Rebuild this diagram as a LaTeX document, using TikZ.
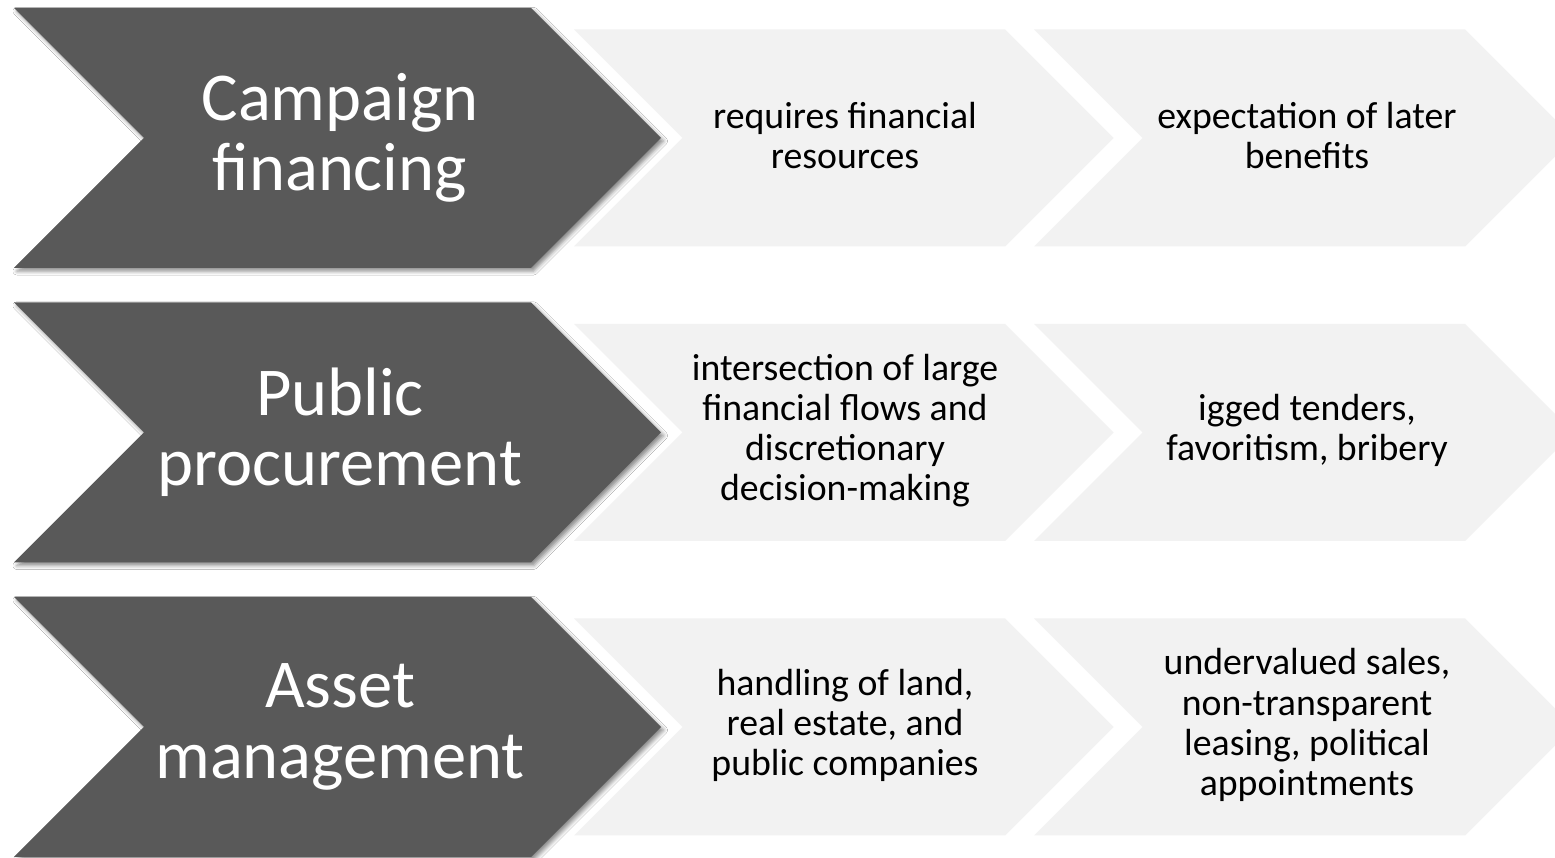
\documentclass[tikz,border=0pt]{standalone}
\usepackage{fontspec}
\setmainfont{Carlito}
\usepackage{tikz}
\usetikzlibrary{positioning, calc, shadows.blur}

\definecolor{darkgrey}{HTML}{595959}
\definecolor{lightgrey}{HTML}{F2F2F2}

\tikzset{
    headarrow/.style={fill=darkgrey, blur shadow={shadow xshift=1.6pt, shadow yshift=-1.8pt, shadow blur radius=2.2pt, shadow opacity=45}},
    steparrow/.style={fill=lightgrey},
    headtext/.style={text=white, align=center, font=\fontsize{39}{40}\selectfont},
    steptext/.style={text=black, align=center, font=\fontsize{21.5}{22.8}\selectfont},
}

% chevron: style, left x, body right x, centre y, half height
\newcommand{\chevron}[5]{%
    \fill[#1] (#2,#4+#5) -- (#3,#4+#5) -- (#3+#5,#4) -- (#3,#4-#5)
        -- (#2,#4-#5) -- (#2+#5,#4) -- cycle;}

\begin{document}
\begin{tikzpicture}[x=0.02cm, y=0.02cm]
    \clip (0,0) rectangle (1555,858);
    \fill[white] (0,0) rectangle (1555,858);

    % row 1
    \chevron{steparrow}{1034}{1465}{720}{108.5}
    \chevron{steparrow}{574}{1005}{720}{108.5}
    \chevron{headarrow}{14}{531}{720}{130}
    % row 2
    \chevron{steparrow}{1034}{1465}{425.5}{108.5}
    \chevron{steparrow}{574}{1005}{425.5}{108.5}
    \chevron{headarrow}{14}{531}{425.5}{130}
    % row 3
    \chevron{steparrow}{1034}{1465}{131}{108.5}
    \chevron{steparrow}{574}{1005}{131}{108.5}
    \chevron{headarrow}{14}{531}{131}{130}

    \node[headtext] (campaign) at (340,720) {Campaign\\financing};
    \node[steptext] (resources) at (845,722) {requires financial\\resources};
    \node[steptext] (benefits) at (1307,722) {expectation of later\\benefits};

    \node[headtext] (procurement) at (340,425.5) {Public\\procurement};
    \node[steptext] (flows) at (845,427.5) {intersection of large\\financial flows and\\discretionary\\decision-making};
    \node[steptext] (tenders) at (1307,427.5) {igged tenders,\\favoritism, bribery};

    \node[headtext] (assets) at (340,131) {Asset\\management};
    \node[steptext] (handling) at (845,133) {handling of land,\\real estate, and\\public companies};
    \node[steptext] (sales) at (1307,133) {undervalued sales,\\non-transparent\\leasing, political\\appointments};
\end{tikzpicture}
\end{document}
